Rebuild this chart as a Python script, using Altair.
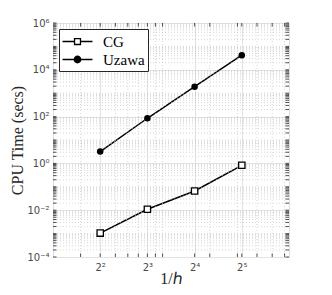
import altair as alt
import pandas as pd

# ---- data ----
h_vals = [4, 8, 16, 32]
cg_time = [0.00105, 0.011, 0.066, 0.83]
uzawa_time = [3.2, 85, 1900, 42000]
series_names = ["CG", "Uzawa"]

# ---- axis ticks ----
x_major = [4, 8, 16, 32]
x_major_labels = ["2²", "2³", "2⁴", "2⁵"]
x_minor = [3, 5, 6, 7, 9, 10, 20, 30, 40, 50, 60]
y_major_exp = [-4, -2, 0, 2, 4, 6]
y_major_labels = ["10⁻⁴", "10⁻²", "10⁰", "10²", "10⁴", "10⁶"]
y_major = [10.0 ** e for e in y_major_exp]
y_minor = [m * 10.0 ** k for k in range(-4, 6) for m in range(2, 10)] + [10.0 ** k for k in (-3, -1, 1, 3, 5)]

W, H = 236, 234
TICK = 3.5
AX = "#262626"

df = pd.DataFrame({
    "h": h_vals * 2,
    "t": cg_time + uzawa_time,
    "series": ["CG"] * len(h_vals) + ["Uzawa"] * len(h_vals),
})
xt = pd.DataFrame({"h": x_major + x_minor})
yt = pd.DataFrame({"t": y_major + y_minor})
xmin_df = pd.DataFrame({"h": x_minor})
ymin_df = pd.DataFrame({"t": y_minor})
leg_df = pd.DataFrame({"series": series_names})

xs = alt.Scale(type="log", base=2, domain=[2, 64], nice=False)
ys = alt.Scale(type="log", domain=[1e-4, 1e6], nice=False)

x_lab = "{" + ",".join(f"'{v}':'{l}'" for v, l in zip(x_major, x_major_labels)) + "}"
y_lab = "{" + ",".join(f"'{e}':'{l}'" for e, l in zip(y_major_exp, y_major_labels)) + "}"
x_expr = x_lab + "['' + datum.value]"
y_expr = y_lab + "['' + round(log(datum.value)/LN10)]"

x_axis = alt.Axis(values=x_major, labelExpr=x_expr, grid=True, gridColor="#e2e2e2", ticks=False,
                  domain=False, labelFont="DejaVu Sans", labelFontSize=10, labelColor="#4a4a4a",
                  labelPadding=5, title="1/ℎ", titleFont="Liberation Serif", titleFontSize=16,
                  titleFontWeight="normal", titleColor=AX, titleY=26.5, titleBaseline="alphabetic")
y_axis = alt.Axis(values=y_major, labelExpr=y_expr, grid=True, gridColor="#e2e2e2", ticks=False,
                  domain=False, labelFont="DejaVu Sans", labelFontSize=10, labelColor="#4a4a4a",
                  labelPadding=4, title="CPU Time (secs)", titleFont="Liberation Serif", titleFontSize=16,
                  titleFontWeight="normal", titleColor=AX, titlePadding=1)

X = lambda: alt.X("h:Q", scale=xs, axis=x_axis)
Y = lambda: alt.Y("t:Q", scale=ys, axis=y_axis)

lines = alt.Chart(df).mark_line(color="black", strokeWidth=1.5).encode(
    x=X(), y=Y(), detail="series:N",
)

minor_style = dict(color="#bdbdbd", strokeWidth=0.6, strokeDash=[1, 2])
gx = alt.Chart(xmin_df).mark_rule(**minor_style).encode(x=X())
gy = alt.Chart(ymin_df).mark_rule(**minor_style).encode(y=Y())

tick_style = dict(color=AX, strokeWidth=0.8)
tb = alt.Chart(xt).mark_rule(**tick_style).encode(x=X(), y=alt.value(H), y2=alt.value(H - TICK))
tt = alt.Chart(xt).mark_rule(**tick_style).encode(x=X(), y=alt.value(0), y2=alt.value(TICK))
tl = alt.Chart(yt).mark_rule(**tick_style).encode(y=Y(), x=alt.value(0), x2=alt.value(TICK))
tr = alt.Chart(yt).mark_rule(**tick_style).encode(y=Y(), x=alt.value(W), x2=alt.value(W - TICK))

pts_cg = alt.Chart(df).transform_filter(alt.datum.series == "CG").mark_point(
    shape="square", filled=True, fill="white", stroke="black", strokeWidth=1.3, size=40, opacity=1
).encode(x=X(), y=Y())
pts_uz = alt.Chart(df).transform_filter(alt.datum.series == "Uzawa").mark_point(
    shape="circle", filled=True, color="black", size=42, opacity=1
).encode(x=X(), y=Y())

cg_path = "M-1.76,0L-0.35,0M0.35,0L1.76,0M-0.35,-0.35L0.35,-0.35L0.35,0.35L-0.35,0.35Z"
uz_path = "M-1.76,0L1.76,0M0.38,0A0.38,0.38,0,1,1,-0.38,0A0.38,0.38,0,1,1,0.38,0Z"
leg = alt.Legend(title=None, orient="top-left", offset=6, padding=3, fillColor="white",
                 strokeColor=AX, labelFont="Liberation Serif", labelFontSize=15, labelColor="black",
                 labelOffset=16, symbolOffset=6, symbolSize=289, rowPadding=0,
                 symbolStrokeWidth=1.3, symbolOpacity=1)
sc_dom = dict(domain=series_names)
legend_layer = alt.Chart(leg_df).transform_filter("false").mark_point(
    filled=True, opacity=1
).encode(
    shape=alt.Shape("series:N", scale=alt.Scale(range=[cg_path, uz_path], **sc_dom), legend=leg),
    fill=alt.Fill("series:N", scale=alt.Scale(range=["white", "black"], **sc_dom), legend=leg),
    stroke=alt.Stroke("series:N", scale=alt.Scale(range=["black", "black"], **sc_dom), legend=leg),
)

chart = alt.layer(lines, gx, gy, tb, tt, tl, tr, pts_cg, pts_uz, legend_layer).properties(
    width=W, height=H,
    autosize=alt.AutoSizeParams(type="none"),
    padding={"left": 45, "top": 15, "right": 35, "bottom": 30},
).configure_view(stroke=AX, strokeWidth=0.9).configure(background="white")

chart.save("out.html", embed_options={"renderer": "svg", "actions": False})
